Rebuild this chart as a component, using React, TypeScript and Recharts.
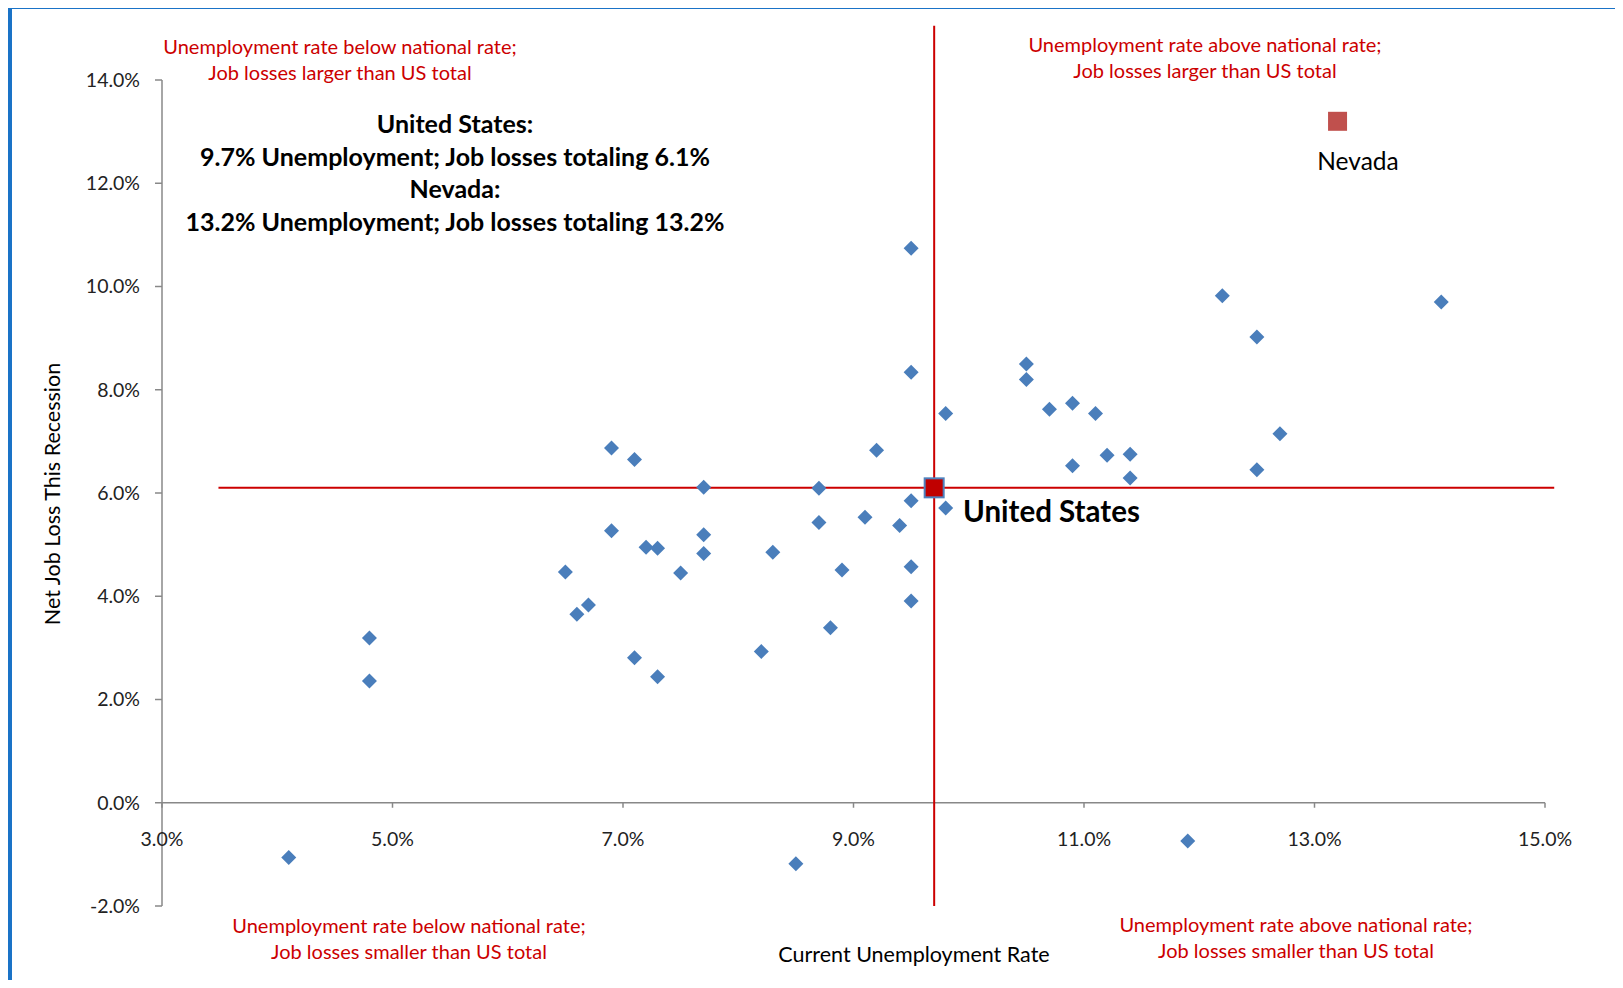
import React from "react";
import {
  ReferenceDot,
  ReferenceLine,
  Scatter,
  ScatterChart,
  XAxis,
  YAxis,
} from "recharts";

// state points: [unemployment %, net job loss %]
const stateUnemp = [
  4.1, 4.8, 4.8, 6.5, 6.6, 6.7, 6.9, 6.9, 7.1, 7.1, 7.2, 7.3, 7.3, 7.5, 7.7, 7.7, 7.7,
  8.2, 8.3, 8.5, 8.7, 8.7, 8.8, 8.9, 9.1, 9.2, 9.4, 9.5, 9.5, 9.5, 9.5, 9.5, 9.8, 9.8,
  10.5, 10.5, 10.7, 10.9, 10.9, 11.1, 11.2, 11.4, 11.4, 11.9, 12.2, 12.5, 12.5, 12.7, 14.1,
];
const stateJobLoss = [
  -1.06, 3.19, 2.36, 4.47, 3.65, 3.83, 6.87, 5.27, 6.65, 2.81, 4.95, 4.93, 2.44, 4.45, 6.11, 5.19, 4.83,
  2.93, 4.85, -1.18, 6.09, 5.43, 3.39, 4.51, 5.53, 6.83, 5.37, 10.74, 8.34, 5.85, 4.57, 3.91, 7.54, 5.71,
  8.5, 8.2, 7.62, 7.74, 6.53, 7.54, 6.73, 6.75, 6.29, -0.74, 9.82, 9.02, 6.45, 7.15, 9.7,
];
const usPoint = { x: 9.7, y: 6.1 };
const nevadaPoint = { x: 13.2, y: 13.2 };
const xTicks = [3, 5, 7, 9, 11, 13, 15];
const yTicks = [-2, 0, 2, 4, 6, 8, 10, 12, 14];

const states = stateUnemp.map((x, i) => ({ x, y: stateJobLoss[i] }));

const FONT = "Lato, 'Open Sans', sans-serif";
const RED = "#cc0000";
const AXIS = "#888888";
const pct = (v: number) => `${v.toFixed(1)}%`;

const Diamond = (p: { cx?: number; cy?: number }) => {
  const { cx = 0, cy = 0 } = p;
  const r = 7.5;
  return (
    <polygon
      points={`${cx},${cy - r} ${cx + r},${cy} ${cx},${cy + r} ${cx - r},${cy}`}
      fill="#4a7ebb"
    />
  );
};

const Square = (color: string, s: number, stroke?: string) => (p: { cx?: number; cy?: number }) => (
  <rect
    x={(p.cx ?? 0) - s / 2}
    y={(p.cy ?? 0) - s / 2}
    width={s}
    height={s}
    fill={color}
    stroke={stroke ?? "none"}
    strokeWidth={stroke ? 2 : 0}
  />
);

const XTick = (label: string) => (p: { cx?: number; cy?: number }) => (
  <g>
    <line x1={p.cx} x2={p.cx} y1={p.cy} y2={(p.cy ?? 0) + 5} stroke={AXIS} strokeWidth={1.5} />
    <text
      x={p.cx}
      y={(p.cy ?? 0) + 43}
      textAnchor="middle"
      fontSize={19.5}
      fontFamily={FONT}
      fill="#222"
    >
      {label}
    </text>
  </g>
);

const note: React.CSSProperties = {
  position: "absolute",
  color: RED,
  fontFamily: FONT,
  fontSize: 20,
  lineHeight: "26px",
  textAlign: "center",
  whiteSpace: "nowrap",
  transform: "translateX(-50%)",
};

export default function App() {
  return (
    <div
      style={{
        position: "relative",
        margin: -8,
        width: 1623,
        height: 988,
        overflow: "hidden",
        background: "#ffff99",
      }}
    >
      <div
        style={{
          position: "absolute",
          left: 8,
          top: 5,
          width: 1700,
          height: 1100,
          background: "#fff",
          borderLeft: "4px solid #1a73c7",
          borderTop: "4px solid #1a73c7",
        }}
      />
      <div style={{ position: "absolute", left: 0, top: 0 }}>
        <ScatterChart
          width={1623}
          height={988}
          margin={{ top: 80, right: 78, bottom: 82, left: 62 }}
        >
          <XAxis type="number" dataKey="x" domain={[3, 15]} ticks={xTicks} hide />
          <YAxis
            type="number"
            dataKey="y"
            domain={[-2, 14]}
            ticks={yTicks}
            width={100}
            tickFormatter={pct}
            tick={{ fontSize: 19.5, fill: "#222", fontFamily: FONT }}
            tickLine={{ stroke: AXIS, strokeWidth: 1.5 }}
            tickSize={7}
            axisLine={{ stroke: AXIS, strokeWidth: 1.5 }}
            tickMargin={15}
          />
          <ReferenceLine y={0} stroke={AXIS} strokeWidth={1.5} />
          {xTicks.map((t) => (
            <ReferenceDot key={t} x={t} y={0} r={0} shape={XTick(pct(t))} />
          ))}
          <ReferenceLine
            segment={[
              { x: 3.49, y: 6.1 },
              { x: 15.08, y: 6.1 },
            ]}
            stroke={RED}
            strokeWidth={2}
            ifOverflow="visible"
          />
          <ReferenceLine
            segment={[
              { x: 9.7, y: 15.05 },
              { x: 9.7, y: -2 },
            ]}
            stroke={RED}
            strokeWidth={2}
            ifOverflow="visible"
          />
          <Scatter data={states} shape={Diamond} isAnimationActive={false} />
          <Scatter data={[nevadaPoint]} shape={Square("#c0504d", 19)} isAnimationActive={false} />
          <Scatter data={[usPoint]} shape={Square("#c00000", 19, "#4f81bd")} isAnimationActive={false} />
        </ScatterChart>
      </div>

      <div style={{ ...note, left: 340, top: 33 }}>
        Unemployment rate below national rate;
        <br />
        Job losses larger than US total
      </div>
      <div style={{ ...note, left: 1205, top: 31 }}>
        Unemployment rate above national rate;
        <br />
        Job losses larger than US total
      </div>
      <div style={{ ...note, left: 409, top: 912 }}>
        Unemployment rate below national rate;
        <br />
        Job losses smaller than US total
      </div>
      <div style={{ ...note, left: 1296, top: 911 }}>
        Unemployment rate above national rate;
        <br />
        Job losses smaller than US total
      </div>
      <div
        style={{
          position: "absolute",
          left: 455,
          top: 107,
          transform: "translateX(-50%)",
          textAlign: "center",
          whiteSpace: "nowrap",
          fontFamily: FONT,
          fontWeight: 700,
          fontSize: 25,
          lineHeight: "32.7px",
          color: "#000",
        }}
      >
        United States:
        <br />
        9.7% Unemployment; Job losses totaling 6.1%
        <br />
        Nevada:
        <br />
        13.2% Unemployment; Job losses totaling 13.2%
      </div>
      <div
        style={{
          position: "absolute",
          left: 1358,
          top: 146,
          transform: "translateX(-50%)",
          fontFamily: FONT,
          fontSize: 24.5,
          color: "#000",
        }}
      >
        Nevada
      </div>
      <div
        style={{
          position: "absolute",
          left: 963,
          top: 493,
          fontFamily: FONT,
          fontWeight: 700,
          fontSize: 29.5,
          color: "#000",
        }}
      >
        United States
      </div>
      <div
        style={{
          position: "absolute",
          left: 914,
          top: 941,
          transform: "translateX(-50%)",
          fontFamily: FONT,
          fontSize: 21.5,
          whiteSpace: "nowrap",
          color: "#000",
        }}
      >
        Current Unemployment Rate
      </div>
      <div
        style={{
          position: "absolute",
          left: 52,
          top: 494,
          transform: "translate(-50%, -50%) rotate(-90deg)",
          fontFamily: FONT,
          fontSize: 21.5,
          whiteSpace: "nowrap",
          color: "#000",
        }}
      >
        Net Job Loss This Recession
      </div>
    </div>
  );
}
